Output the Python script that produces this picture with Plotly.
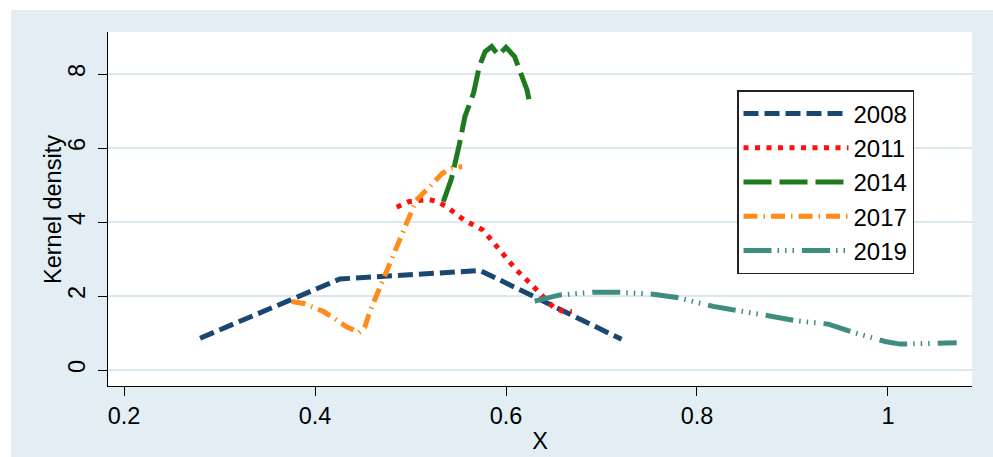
import plotly.graph_objects as go

# ---- data ----
x_2008 = [0.2796, 0.426, 0.573, 0.721]
y_2008 = [0.86, 2.46, 2.69, 0.83]

x_2011 = [0.4855, 0.498, 0.519, 0.529, 0.540, 0.557, 0.576, 0.590, 0.611, 0.627, 0.639, 0.650, 0.658, 0.669]
y_2011 = [4.40, 4.55, 4.61, 4.55, 4.37, 4.04, 3.78, 3.33, 2.70, 2.30, 1.98, 1.69, 1.60, 1.58]

x_2014 = [0.5344, 0.543, 0.551, 0.557, 0.566, 0.572, 0.578, 0.585, 0.592, 0.600, 0.609, 0.616, 0.622, 0.624]
y_2014 = [4.55, 5.18, 6.08, 6.85, 7.48, 8.20, 8.60, 8.74, 8.51, 8.72, 8.47, 8.02, 7.57, 7.32]

x_2017 = [0.3756, 0.388, 0.409, 0.433, 0.446, 0.452, 0.458, 0.468, 0.479, 0.498, 0.506, 0.520, 0.533, 0.543, 0.554]
y_2017 = [1.85, 1.80, 1.58, 1.17, 1.01, 1.15, 1.62, 2.25, 2.92, 4.14, 4.59, 4.95, 5.31, 5.45, 5.50]

x_2019 = [0.630, 0.6565, 0.691, 0.719, 0.754, 0.779, 0.817, 0.843, 0.876, 0.904, 0.9375, 0.965, 0.978, 0.997, 1.0126, 1.026, 1.047, 1.072]
y_2019 = [1.86, 2.03, 2.10, 2.10, 2.05, 1.96, 1.72, 1.62, 1.46, 1.33, 1.24, 1.01, 0.92, 0.77, 0.70, 0.70, 0.72, 0.74]

series_names = ["2008", "2011", "2014", "2017", "2019"]
x_tick_vals = [0.2, 0.4, 0.6, 0.8, 1.0]
x_tick_text = ["0.2", "0.4", "0.6", "0.8", "1"]
y_tick_vals = [0, 2, 4, 6, 8]
y_tick_text = ["0", "2", "4", "6", "8"]
x_title = "X"
y_title = "Kernel density"

# ---- styles ----
styles = [
    dict(color="#1a476f", dash="15px,6px"),
    dict(color="#ff1010", dash="5px,6.5px"),
    dict(color="#1e7a1e", dash="28px,8px"),
    dict(color="#ff8c1a", dash="14px,6px,1.5px,6px"),
    dict(color="#3f8c80", dash="28px,6px,1.5px,6px,1.5px,6px,1.5px,8px"),
]
xs = [x_2008, x_2011, x_2014, x_2017, x_2019]
ys = [y_2008, y_2011, y_2014, y_2017, y_2019]

FONT = "Liberation Sans, Arial, sans-serif"
BG = "#e2eef4"
TICK_SIZE = 23.5

fig = go.Figure()
for name, xv, yv, st in zip(series_names, xs, ys, styles):
    fig.add_trace(go.Scatter(
        x=xv, y=yv, mode="lines", name=name,
        line=dict(color=st["color"], dash=st["dash"], width=5),
    ))

W, H = 993, 457
L, R, T, B = 108, 21, 32, 71
pw, ph = W - L - R, H - T - B

def px2paperx(p):
    return (p - L) / pw

def px2papery(p):
    return (H - B - p) / ph

shapes = [
    # thin white strips around the light-blue graph region
    dict(type="rect", xref="paper", yref="paper", layer="below",
         x0=px2paperx(-5), x1=px2paperx(11), y0=px2papery(470), y1=px2papery(-5),
         fillcolor="white", line=dict(width=0)),
    dict(type="rect", xref="paper", yref="paper", layer="below",
         x0=px2paperx(-5), x1=px2paperx(1000), y0=px2papery(10), y1=px2papery(-5),
         fillcolor="white", line=dict(width=0)),
]

annotations = [
    dict(text=y_title, xref="paper", yref="paper", x=px2paperx(53), y=0.5,
         xanchor="center", yanchor="middle", textangle=-90, showarrow=False,
         font=dict(family=FONT, size=TICK_SIZE, color="black")),
]

fig.update_layout(
    width=W, height=H,
    margin=dict(l=L, r=R, t=T, b=B, autoexpand=False),
    paper_bgcolor=BG, plot_bgcolor="white",
    font=dict(family=FONT, size=TICK_SIZE, color="black"),
    shapes=shapes,
    annotations=annotations,
    showlegend=True,
    legend=dict(
        x=px2paperx(737), y=px2papery(90), xanchor="left", yanchor="top",
        bgcolor="white", bordercolor="#222222", borderwidth=1.5,
        font=dict(family=FONT, size=24, color="black"),
        itemwidth=105, tracegroupgap=0,
    ),
    xaxis=dict(
        range=[0.1832, 1.088], tickvals=x_tick_vals, ticktext=x_tick_text,
        showgrid=False, zeroline=False, showline=True, linecolor="black", linewidth=1.3,
        ticks="outside", ticklen=9, tickwidth=1.3, tickcolor="black",
        tickfont=dict(family=FONT, size=TICK_SIZE),
        title=dict(text=x_title, font=dict(family=FONT, size=TICK_SIZE), standoff=4),
        automargin=False,
    ),
    yaxis=dict(
        range=[-0.432, 9.135], tickvals=y_tick_vals, ticktext=y_tick_text,
        showgrid=True, gridcolor="#dbe8ef", gridwidth=1.5,
        zeroline=False, showline=True, linecolor="black", linewidth=1.3,
        ticks="outside", ticklen=9, tickwidth=1.3, tickcolor="black",
        tickangle=-90, tickfont=dict(family=FONT, size=TICK_SIZE),
        ticklabelstandoff=3,
        automargin=False,
    ),
)

fig.write_html("out.html")
